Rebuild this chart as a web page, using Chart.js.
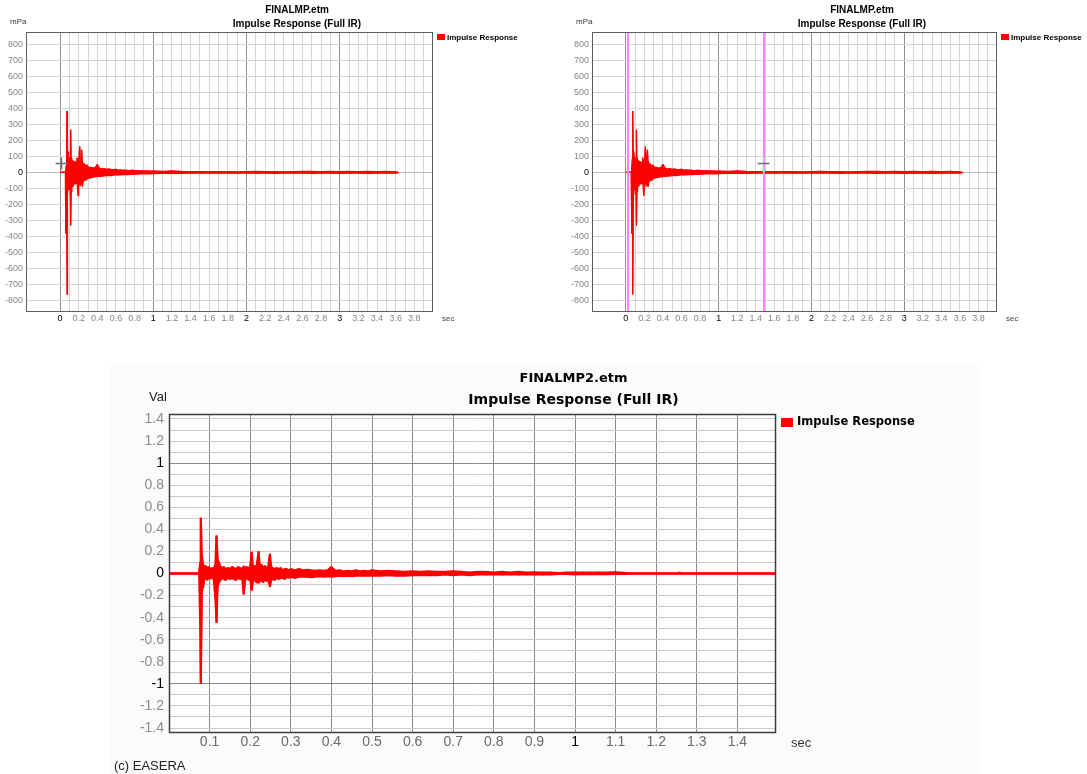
<!DOCTYPE html>
<html>
<head>
<meta charset="utf-8">
<title>Impulse Response (Full IR)</title>
<script src="https://cdn.jsdelivr.net/npm/chart.js@4.4.1/dist/chart.umd.min.js"></script>
<style>
  body { margin: 0; background: #ffffff; width: 1087px; height: 774px; overflow: hidden; position: relative; }
  .box { position: absolute; }
  #boxA { left: 0; top: 0; }
  #boxB { left: 545px; top: 0; }
  #boxC { left: 110px; top: 365px; background: #fbfbf9; }
  canvas { display: block; }
</style>
</head>
<body>
<div class="box" id="boxA"><canvas id="chartA" width="545" height="330"></canvas></div>
<div class="box" id="boxB"><canvas id="chartB" width="542" height="330"></canvas></div>
<div class="box" id="boxC"><canvas id="chartC" width="870" height="409"></canvas></div>
<script>
// FINALMP.etm, impulse response in mPa: upper / lower swing at each time (sec)
const irTime = [
    0, 0.058, 0.061, 0.066, 0.071, 0.075, 0.080, 0.086, 0.092, 0.098,
    0.104, 0.111, 0.115, 0.120, 0.126, 0.132, 0.138, 0.145, 0.152, 0.160,
    0.168, 0.175, 0.182, 0.193, 0.200, 0.211, 0.218, 0.225, 0.233, 0.240,
    0.250, 0.260, 0.270, 0.280, 0.290, 0.300,
    0.325, 0.350, 0.375, 0.400, 0.425, 0.450, 0.475, 0.500, 0.525, 0.550,
    0.575, 0.600, 0.625, 0.650, 0.675, 0.700, 0.725, 0.750, 0.775, 0.800,
    0.825, 0.850, 0.875, 0.900, 0.925, 0.950, 0.975, 1.000,
    1.1, 1.2, 1.3, 1.4, 1.5, 1.6, 1.7, 1.8, 1.9, 2.0,
    2.1, 2.2, 2.3, 2.4, 2.5, 2.6, 2.7, 2.8, 2.9, 3.0,
    3.1, 3.2, 3.3, 3.4, 3.5, 3.6, 3.63
];
const irHigh = [
    0, 0, 0, 40, 90, 385, 120, 131, 70, 95,
    60, 80, 267, 90, 60, 75, 55, 60, 70, 55,
    65, 50, 92, 60, 70, 162, 80, 60, 142, 70,
    50, 55, 45, 40, 48, 35,
    32, 28, 30, 50, 25, 22, 24, 20, 22, 18,
    17, 20, 15, 16, 14, 15, 13, 12, 14, 11,
    12, 10, 12, 9, 10, 9, 8, 9,
    6, 10, 6, 5, 5, 5, 5, 5, 4, 5,
    6, 5, 5, 4, 5, 6, 7, 5, 6, 5,
    6, 5, 7, 5, 6, 4, 0
];
const irLow = [
    0, 0, -383, -120, -90, -765, -140, -90, -110, -70,
    -80, -154, -333, -120, -80, -60, -90, -70, -55, -75,
    -60, -70, -60, -146, -70, -60, -85, -65, -60, -90,
    -55, -50, -45, -50, -40, -38,
    -35, -30, -28, -26, -25, -24, -22, -20, -19, -20,
    -17, -16, -16, -15, -14, -13, -14, -12, -12, -11,
    -11, -10, -10, -9, -9, -8, -9, -8,
    -6, -5, -6, -5, -5, -5, -4, -5, -5, -4,
    -5, -5, -6, -5, -5, -5, -6, -5, -5, -6,
    -5, -5, -6, -5, -5, -5, 0
];

// FINALMP2.etm, normalized impulse response
const ir2Time = [
    0, 0.074, 0.077, 0.0786, 0.081, 0.084, 0.087, 0.090, 0.094, 0.098,
    0.102, 0.106, 0.110, 0.114, 0.117, 0.120, 0.123, 0.127, 0.131, 0.135,
    0.140, 0.145, 0.150, 0.155, 0.160, 0.165, 0.170, 0.175, 0.180, 0.184,
    0.188, 0.192, 0.196, 0.200, 0.2035, 0.207, 0.211, 0.215, 0.2207, 0.224,
    0.228, 0.232, 0.236, 0.240, 0.244, 0.2486, 0.252, 0.256, 0.260, 0.265,
    0.270, 0.275, 0.280, 0.285, 0.290, 0.295, 0.300, 0.31, 0.32, 0.33,
    0.34, 0.35, 0.36, 0.37, 0.38, 0.39, 0.40, 0.41, 0.42, 0.43,
    0.44, 0.45, 0.46, 0.47, 0.48, 0.49, 0.50, 0.52, 0.54, 0.56,
    0.58, 0.60, 0.62, 0.64, 0.66, 0.68, 0.70, 0.72, 0.74, 0.76,
    0.78, 0.80, 0.82, 0.84, 0.86, 0.88, 0.90, 0.92, 0.94, 0.96,
    0.98, 1.00, 1.02, 1.04, 1.06, 1.08, 1.10, 1.12, 1.14, 1.255,
    1.257, 1.26, 1.495
];
const ir2High = [
    0, 0, 0.10, 0.504, 0.17, 0.08, 0.06, 0.07, 0.05, 0.06,
    0.04, 0.05, 0.04, 0.08, 0.344, 0.13, 0.10, 0.06, 0.05, 0.06,
    0.04, 0.05, 0.04, 0.06, 0.05, 0.04, 0.06, 0.05, 0.04, 0.066,
    0.05, 0.06, 0.04, 0.07, 0.196, 0.06, 0.07, 0.05, 0.20, 0.06,
    0.08, 0.05, 0.07, 0.05, 0.06, 0.178, 0.06, 0.05, 0.04, 0.05,
    0.04, 0.05, 0.03, 0.04, 0.04, 0.03, 0.04, 0.03, 0.04, 0.03,
    0.035, 0.03, 0.025, 0.03, 0.025, 0.03, 0.06, 0.025, 0.03, 0.02,
    0.025, 0.02, 0.03, 0.02, 0.025, 0.02, 0.03, 0.02, 0.025, 0.02,
    0.015, 0.02, 0.015, 0.02, 0.015, 0.015, 0.02, 0.015, 0.01, 0.015,
    0.015, 0.01, 0.015, 0.01, 0.015, 0.01, 0.012, 0.008, 0.01, 0.005,
    0.01, 0.008, 0.01, 0.008, 0.01, 0.008, 0.012, 0.006, 0, 0,
    0.012, 0, 0
];
const ir2Low = [
    0, 0, -0.50, -0.998, -0.16, -0.12, -0.05, -0.04, -0.06, -0.03,
    -0.05, -0.03, -0.05, -0.22, -0.446, -0.12, -0.08, -0.06, -0.04, -0.05,
    -0.06, -0.04, -0.05, -0.04, -0.05, -0.06, -0.04, -0.05, -0.04, -0.19,
    -0.05, -0.04, -0.06, -0.05, -0.154, -0.07, -0.05, -0.08, -0.085, -0.07,
    -0.06, -0.08, -0.05, -0.07, -0.06, -0.12, -0.06, -0.05, -0.06, -0.04,
    -0.05, -0.04, -0.04, -0.05, -0.03, -0.04, -0.03, -0.04, -0.03, -0.03,
    -0.03, -0.035, -0.03, -0.025, -0.03, -0.025, -0.03, -0.025, -0.02, -0.025,
    -0.02, -0.025, -0.02, -0.02, -0.02, -0.02, -0.02, -0.02, -0.015, -0.02,
    -0.02, -0.015, -0.015, -0.015, -0.015, -0.01, -0.015, -0.01, -0.015, -0.01,
    -0.01, -0.01, -0.01, -0.01, -0.01, -0.01, -0.01, -0.01, -0.008, -0.005,
    -0.005, -0.008, -0.005, -0.006, -0.005, -0.006, -0.005, -0.005, 0, 0,
    0, 0, 0
];

// tick labels
const topXLabels = ['0', '0.2', '0.4', '0.6', '0.8', '1', '1.2', '1.4', '1.6', '1.8',
    '2', '2.2', '2.4', '2.6', '2.8', '3', '3.2', '3.4', '3.6', '3.8'];
const topYTicks = [-800, -700, -600, -500, -400, -300, -200, -100, 0, 100, 200, 300, 400, 500, 600, 700, 800];
const bottomXTicks = [0.1, 0.2, 0.3, 0.4, 0.5, 0.6, 0.7, 0.8, 0.9, 1, 1.1, 1.2, 1.3, 1.4];
const bottomYLabels = ['-1.4', '-1.2', '-1', '-0.8', '-0.6', '-0.4', '-0.2', '0',
    '0.2', '0.4', '0.6', '0.8', '1', '1.2', '1.4'];

// cursors on the top charts (sec, mPa)
const cursorTimes = [0.01, 1.483];
const cursorValue = 62;

const RED = '#ff0000';
const FONT = "'Liberation Sans', Arial, sans-serif";
const NARROW = "'Liberation Sans Narrow', 'Liberation Sans', Arial, sans-serif";
const WIDE = "'DejaVu Sans', Verdana, sans-serif";

// 0.1 steps for the minor grid
const topXGrid = [];
for (let i = 0; i <= 39; i++) topXGrid.push(i / 10);
const bottomYGrid = [];
for (let i = -14; i <= 14; i++) bottomYGrid.push(i / 10);

const fmt = v => String(Math.round(v * 10) / 10);
const isInt = v => Math.abs(v - Math.round(v)) < 1e-6;

// each time gives a vertical swing from its high to its low value
function tracePoints(times, highs, lows) {
    const pts = [];
    times.forEach((t, i) => {
        pts.push({ x: t, y: highs[i] });
        if (lows[i] !== highs[i]) pts.push({ x: t, y: lows[i] });
    });
    return pts;
}

// lower edge, upper edge filled down to it, then the swing trace on top
function signalDatasets(times, highs, lows, width) {
    const common = { borderColor: RED, borderWidth: width, borderJoinStyle: 'bevel', pointRadius: 0, tension: 0 };
    return [
        Object.assign({ label: 'low', data: times.map((t, i) => ({ x: t, y: lows[i] })), fill: false }, common),
        Object.assign({ label: 'high', data: times.map((t, i) => ({ x: t, y: highs[i] })), fill: '-1', backgroundColor: RED }, common),
        Object.assign({ label: 'Impulse Response', data: tracePoints(times, highs, lows), fill: false }, common)
    ];
}

const plotBackground = {
    id: 'plotBackground',
    beforeDraw(chart) {
        const a = chart.chartArea;
        chart.ctx.save();
        chart.ctx.fillStyle = '#ffffff';
        chart.ctx.fillRect(a.left, a.top, a.right - a.left, a.bottom - a.top);
        chart.ctx.restore();
    }
};

function framePlugin(color, width) {
    return {
        id: 'frame',
        afterDraw(chart) {
            const a = chart.chartArea;
            const ctx = chart.ctx;
            ctx.save();
            ctx.strokeStyle = color;
            ctx.lineWidth = width;
            ctx.strokeRect(a.left + 0.5, a.top + 0.5, a.right - a.left - 1, a.bottom - a.top - 1);
            ctx.restore();
        }
    };
}

function textPlugin(items) {
    return {
        id: 'texts',
        afterDraw(chart) {
            const ctx = chart.ctx;
            items.forEach(it => {
                ctx.save();
                if (it.box) {
                    ctx.fillStyle = it.color;
                    ctx.fillRect(it.x, it.y, it.w, it.h);
                } else {
                    ctx.font = it.font;
                    ctx.fillStyle = it.color || '#000000';
                    ctx.textAlign = it.align || 'left';
                    ctx.textBaseline = 'middle';
                    ctx.fillText(it.text, it.x, it.y);
                }
                ctx.restore();
            });
        }
    };
}

function crossPlugin(showMarkers) {
    return {
        id: 'cursors',
        afterDatasetsDraw(chart) {
            const ctx = chart.ctx;
            const a = chart.chartArea;
            const xs = chart.scales.x, ys = chart.scales.y;
            const cy = Math.round(ys.getPixelForValue(cursorValue)) + 0.5;
            ctx.save();
            if (showMarkers) {
                ctx.strokeStyle = '#ff80ff';
                ctx.lineWidth = 2;
                cursorTimes.forEach(t => {
                    const px = Math.round(xs.getPixelForValue(t)) + 1;
                    ctx.beginPath();
                    ctx.moveTo(px, a.top);
                    ctx.lineTo(px, a.bottom);
                    ctx.stroke();
                });
                const cx = Math.round(xs.getPixelForValue(cursorTimes[1])) + 0.5;
                ctx.strokeStyle = '#80ff80';
                ctx.lineWidth = 1.5;
                ctx.beginPath();
                ctx.moveTo(cx, cy - 6);
                ctx.lineTo(cx, ys.getPixelForValue(0));
                ctx.stroke();
                ctx.strokeStyle = '#6e6e6e';
                ctx.lineWidth = 1.5;
                ctx.beginPath();
                ctx.moveTo(cx - 6, cy);
                ctx.lineTo(cx + 6, cy);
                ctx.stroke();
            } else {
                const cx = Math.round(xs.getPixelForValue(cursorTimes[0])) + 0.5;
                ctx.strokeStyle = '#6e6e6e';
                ctx.lineWidth = 1.5;
                ctx.beginPath();
                ctx.moveTo(cx - 6, cy);
                ctx.lineTo(cx + 6, cy);
                ctx.moveTo(cx, cy - 6);
                ctx.lineTo(cx, cy + 6);
                ctx.stroke();
            }
            ctx.restore();
        }
    };
}

function topChart(canvasId, plotLeft, plotRight, canvasWidth, titleX, showMarkers) {
    return new Chart(document.getElementById(canvasId), {
        type: 'line',
        data: { datasets: signalDatasets(irTime, irHigh, irLow, 1.2) },
        options: {
            responsive: false,
            animation: false,
            events: [],
            layout: { padding: { left: plotLeft - 26, right: canvasWidth - plotRight, top: 32, bottom: 0 } },
            plugins: { legend: { display: false }, title: { display: false }, tooltip: { enabled: false } },
            scales: {
                x: {
                    type: 'linear',
                    min: -0.365,
                    max: 4.0,
                    afterFit: s => { s.height = 18; },
                    afterBuildTicks: s => { s.ticks = topXGrid.map(v => ({ value: v })); },
                    grid: { color: c => isInt(c.tick.value) ? '#8e8e8e' : '#d4d4d4', drawTicks: false },
                    border: { display: false },
                    ticks: {
                        autoSkip: false, maxRotation: 0, minRotation: 0, padding: 1,
                        font: { family: FONT, size: 9 },
                        color: c => isInt(c.tick.value) ? '#000000' : '#858585',
                        callback: v => topXLabels.includes(fmt(v)) ? fmt(v) : ''
                    }
                },
                y: {
                    type: 'linear',
                    min: -875,
                    max: 880,
                    afterFit: s => { s.width = 26; },
                    afterBuildTicks: s => { s.ticks = topYTicks.map(v => ({ value: v })); },
                    grid: { color: c => c.tick.value === 0 ? '#bdbdbd' : '#d4d4d4', drawTicks: false },
                    border: { display: false },
                    ticks: {
                        autoSkip: false, padding: 3,
                        font: { family: FONT, size: 9 },
                        color: c => c.tick.value === 0 ? '#000000' : '#858585',
                        callback: v => String(v)
                    }
                }
            }
        },
        plugins: [
            plotBackground,
            crossPlugin(showMarkers),
            framePlugin('#5e5e5e', 1),
            textPlugin([
                { text: 'FINALMP.etm', x: titleX, y: 10, align: 'center', font: 'bold 10px ' + FONT },
                { text: 'Impulse Response (Full IR)', x: titleX, y: 24, align: 'center', font: 'bold 10px ' + FONT },
                { text: 'mPa', x: plotLeft - 16, y: 22, font: '8px ' + FONT, color: '#333333' },
                { box: true, x: plotRight + 4, y: 34, w: 8, h: 6, color: RED },
                { text: 'Impulse Response', x: plotRight + 14, y: 37.5, font: 'bold 8px ' + FONT },
                { text: 'sec', x: plotRight + 9, y: 318.5, font: '8px ' + FONT, color: '#444444' }
            ])
        ]
    });
}

topChart('chartA', 26, 433, 545, 297, false);
topChart('chartB', 47, 452, 542, 317, true);

new Chart(document.getElementById('chartC'), {
    type: 'line',
    data: { datasets: signalDatasets(ir2Time, ir2High, ir2Low, 2) },
    options: {
        responsive: false,
        animation: false,
        events: [],
        layout: { padding: { left: 0, right: 870 - 666, top: 49, bottom: 0 } },
        plugins: { legend: { display: false }, title: { display: false }, tooltip: { enabled: false } },
        scales: {
            x: {
                type: 'linear',
                min: 0,
                max: 1.495,
                afterFit: s => { s.height = 409 - 368; },
                afterBuildTicks: s => { s.ticks = bottomXTicks.map(v => ({ value: v })); },
                grid: { color: '#8a8a8a', drawTicks: false },
                border: { display: false },
                ticks: {
                    autoSkip: false, maxRotation: 0, minRotation: 0, padding: 1,
                    font: { family: NARROW, size: 14 },
                    color: c => c.tick.value === 1 ? '#000000' : '#6a6a6a',
                    callback: v => fmt(v)
                }
            },
            y: {
                type: 'linear',
                min: -1.445,
                max: 1.445,
                afterFit: s => { s.width = 59; },
                afterBuildTicks: s => { s.ticks = bottomYGrid.map(v => ({ value: v })); },
                grid: { color: c => Math.abs(Math.abs(c.tick.value) - 1) < 1e-6 ? '#8a8a8a' : '#cacaca', drawTicks: false },
                border: { display: false },
                ticks: {
                    autoSkip: false, padding: 5,
                    font: { family: NARROW, size: 14 },
                    color: c => isInt(c.tick.value) ? '#000000' : '#8c8c8c',
                    callback: v => bottomYLabels.includes(fmt(v)) ? fmt(v) : ''
                }
            }
        }
    },
    plugins: [
        plotBackground,
        framePlugin('#3c3c3c', 1.5),
        textPlugin([
            { text: 'FINALMP2.etm', x: 463.5, y: 13.5, align: 'center', font: 'bold 13px ' + WIDE },
            { text: 'Impulse Response (Full IR)', x: 463.5, y: 35.5, align: 'center', font: 'bold 14px ' + WIDE },
            { text: 'Val', x: 39, y: 32.5, font: '13px ' + FONT, color: '#222222' },
            { box: true, x: 671, y: 53, w: 12, h: 9, color: RED },
            { text: 'Impulse Response', x: 687, y: 57.5, font: 'bold 11.5px ' + WIDE },
            { text: 'sec', x: 681, y: 378, font: '13px ' + FONT, color: '#333333' },
            { text: '(c) EASERA', x: 4, y: 401.5, font: '13px ' + NARROW, color: '#222222' }
        ])
    ]
});
</script>
</body>
</html>
